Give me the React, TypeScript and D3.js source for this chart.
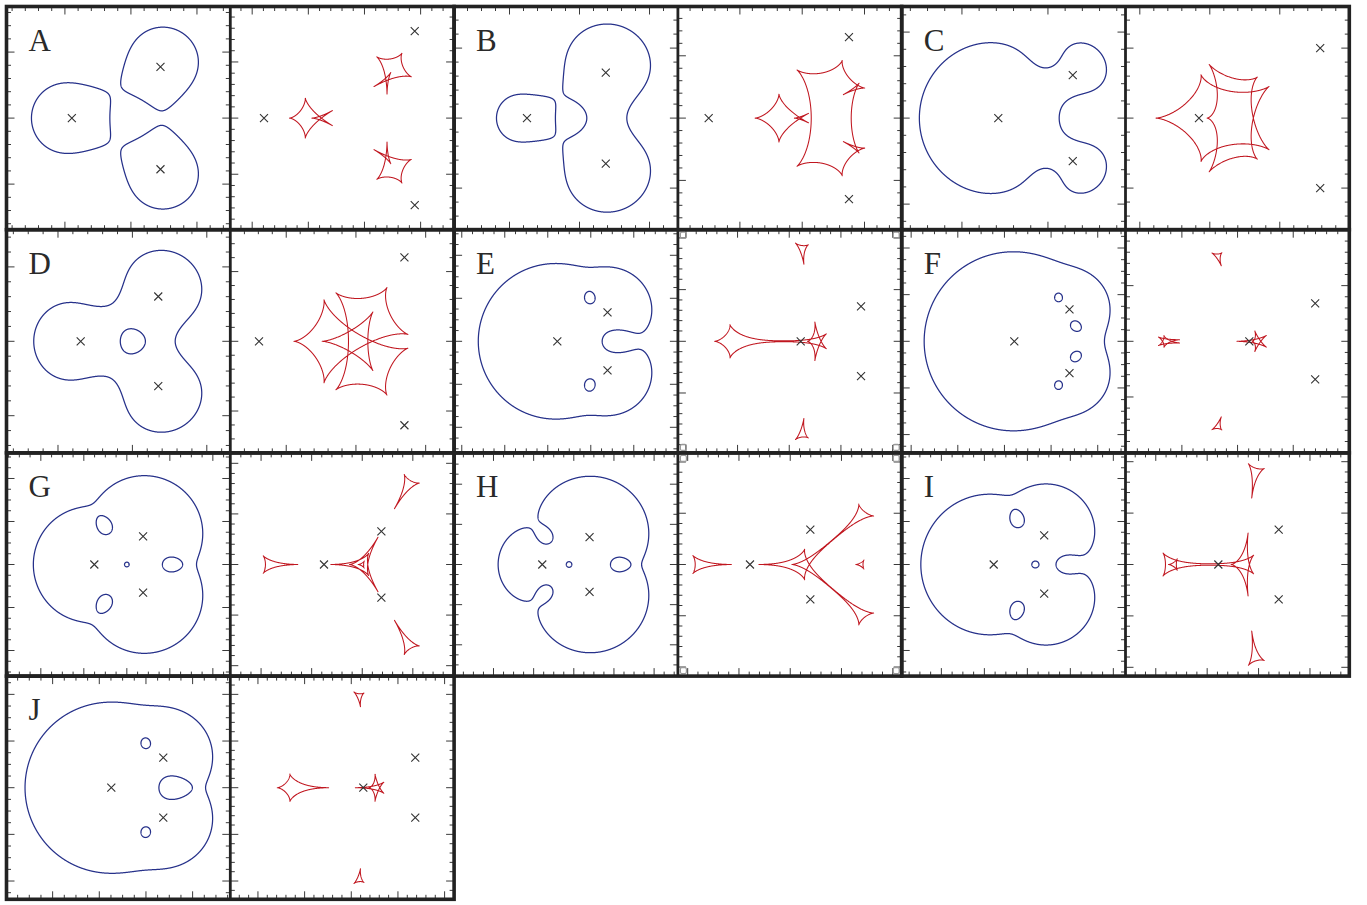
import React, { useMemo } from "react";
import * as d3 from "d3";

type Pt = [number, number];

const W = 1367;
const H = 905;

// Panel labels, read row by row (three panel pairs per row)
const panelLabels = ["A", "B", "C", "D", "E", "F", "G", "H", "I", "J"];
// Side of the equilateral lens triangle, in Einstein radii of the total mass
const triangleSides = [1.55, 1.3, 1.0, 1.204, 0.674, 0.683, 0.655, 0.68, 0.678, 0.643];
// Mass fraction of the lens on the symmetry axis; the two others share the remainder equally
const axialMass = [1 / 3, 0.15, 0.8, 1 / 3, 0.77, 0.9, 1 / 3, 0.15, 0.6, 0.78];
// Horizontal range of the lens-plane view, measured from the axial lens
const lensPlaneRange: Pt[] = [
  [-0.99, 2.4], [-1.041, 2.156], [-1.123, 1.479], [-0.997, 2.011], [-1.2, 1.402],
  [-1.207, 1.192], [-1.021, 1.581], [-1.098, 1.689], [-1.07, 1.533], [-1.123, 1.275],
];
// Horizontal range of the source-plane view, measured from the axial lens
const sourcePlaneRange: Pt[] = [
  [-0.3, 1.693], [-0.247, 1.549], [-0.525, 1.074], [-0.206, 1.399], [-1.188, 0.977],
  [-1.112, 0.898], [-0.926, 1.286], [-0.703, 1.48], [-0.903, 1.274], [-1.425, 0.973],
];
// Tick spacing: [major step, minor subdivisions]
const lensPlaneTicks: Pt[] = [
  [1, 5], [1, 5], [1, 5], [1, 5], [0.5, 4], [0.5, 4], [0.5, 4], [0.5, 4], [0.5, 4], [0.5, 4],
];
const sourcePlaneTicks: Pt[] = [
  [0.5, 5], [0.5, 5], [0.5, 5], [0.5, 5], [0.5, 5], [0.5, 5], [0.5, 5], [0.5, 5], [0.5, 5], [0.5, 5],
];
// Source-plane frames that carry small corner marks
const cornerMarked = ["E", "H"];

const X0 = 6.5;
const Y0 = 6.5;
const CELL_W = 223.8;
const CELL_H = 223.2;
const COLS = 3;

const CRIT_COLOR = "#26318a";
const CAUSTIC_COLOR = "#c0161f";
const FRAME_COLOR = "#222";
const TICK_COLOR = "#3a3a3a";

interface Lens {
  xs: number[];
  ys: number[];
  ms: number[];
}

function makeLens(s: number, m: number): Lens {
  const h = (s * Math.sqrt(3)) / 2;
  return { xs: [0, h, h], ys: [0, s / 2, -s / 2], ms: [m, (1 - m) / 2, (1 - m) / 2] };
}

// |sum m_j / (z - z_j)^2|, the modulus of the shear term of the lens map
function shearModulus(L: Lens, x: number, y: number): number {
  let fr = 0;
  let fi = 0;
  for (let j = 0; j < 3; j++) {
    const dx = x - L.xs[j];
    const dy = y - L.ys[j];
    const r2 = dx * dx + dy * dy + 1e-12;
    const r4 = r2 * r2;
    fr += (L.ms[j] * (dx * dx - dy * dy)) / r4;
    fi += (L.ms[j] * (-2 * dx * dy)) / r4;
  }
  return Math.min(Math.hypot(fr, fi), 1e4);
}

// Newton steps onto the critical curve |f(z)| = 1
function projectToCritical(L: Lens, p: Pt): Pt {
  let x = p[0];
  let y = p[1];
  for (let it = 0; it < 8; it++) {
    let fr = 0, fi = 0, gr = 0, gi = 0;
    for (let j = 0; j < 3; j++) {
      const m = L.ms[j];
      const dx = x - L.xs[j];
      const dy = y - L.ys[j];
      const r2 = dx * dx + dy * dy;
      const r4 = r2 * r2;
      const r6 = r4 * r2;
      const c2r = dx * dx - dy * dy;
      const c2i = -2 * dx * dy;
      fr += (m * c2r) / r4;
      fi += (m * c2i) / r4;
      const c3r = c2r * dx + c2i * dy;
      const c3i = c2i * dx - c2r * dy;
      gr += (-2 * m * c3r) / r6;
      gi += (-2 * m * c3i) / r6;
    }
    const F = fr * fr + fi * fi - 1;
    const gx = 2 * (fr * gr + fi * gi);
    const gy = 2 * (fi * gr - fr * gi);
    const g2 = gx * gx + gy * gy;
    if (g2 === 0 || !isFinite(g2)) break;
    let sx = (F * gx) / g2;
    let sy = (F * gy) / g2;
    const len = Math.hypot(sx, sy);
    if (len > 0.01) {
      sx *= 0.01 / len;
      sy *= 0.01 / len;
    }
    x -= sx;
    y -= sy;
    if (Math.abs(F) < 1e-11) break;
  }
  return [x, y];
}

// Lens equation: source position of an image at z
function lensMap(L: Lens, p: Pt): Pt {
  let wx = p[0];
  let wy = p[1];
  for (let j = 0; j < 3; j++) {
    const dx = p[0] - L.xs[j];
    const dy = p[1] - L.ys[j];
    const r2 = dx * dx + dy * dy;
    wx -= (L.ms[j] * dx) / r2;
    wy -= (L.ms[j] * dy) / r2;
  }
  return [wx, wy];
}

function resampleRing(ring: Pt[], spacing: number): Pt[] {
  const pts = ring.slice();
  const last = pts[pts.length - 1];
  if (pts.length > 1 && last[0] === pts[0][0] && last[1] === pts[0][1]) pts.pop();
  const n = pts.length;
  const cum = [0];
  for (let i = 0; i < n; i++) {
    const a = pts[i];
    const b = pts[(i + 1) % n];
    cum.push(cum[i] + Math.hypot(b[0] - a[0], b[1] - a[1]));
  }
  const total = cum[n];
  const count = Math.max(90, Math.min(5000, Math.ceil(total / spacing)));
  const out: Pt[] = [];
  let seg = 0;
  for (let k = 0; k < count; k++) {
    const t = (k * total) / count;
    while (seg < n - 1 && cum[seg + 1] < t) seg++;
    const a = pts[seg];
    const b = pts[(seg + 1) % n];
    const span = cum[seg + 1] - cum[seg] || 1;
    const u = (t - cum[seg]) / span;
    out.push([a[0] + u * (b[0] - a[0]), a[1] + u * (b[1] - a[1])]);
  }
  return out;
}

function criticalCurves(L: Lens, s: number): Pt[][] {
  const cx = (s * Math.sqrt(3)) / 3;
  const n = 520;
  const half = 2.1;
  const gx0 = cx - half;
  const gy0 = -half;
  const step = (2 * half) / (n - 1);
  const values = new Float64Array(n * n);
  for (let j = 0; j < n; j++) {
    for (let i = 0; i < n; i++) {
      values[j * n + i] = shearModulus(L, gx0 + i * step, gy0 + j * step);
    }
  }
  const contour = d3.contours().size([n, n]).thresholds([1])(values as any)[0];
  const rings: Pt[][] = [];
  for (const poly of contour.coordinates) {
    for (const ring of poly) {
      const units: Pt[] = ring.map((p) => [gx0 + (p[0] - 0.5) * step, gy0 + (p[1] - 0.5) * step]);
      const even = resampleRing(units, 0.0025);
      rings.push(even.map((p) => projectToCritical(L, p)));
    }
  }
  return rings;
}

interface View {
  x: d3.ScaleLinear<number, number>;
  y: d3.ScaleLinear<number, number>;
  px: number;
  py: number;
}

function makeView(range: Pt, px: number, py: number): View {
  const yHalf = ((range[1] - range[0]) / 2) * (CELL_H / CELL_W);
  return {
    x: d3.scaleLinear().domain(range).range([px, px + CELL_W]),
    y: d3.scaleLinear().domain([-yHalf, yHalf]).range([py + CELL_H, py]),
    px,
    py,
  };
}

function tickMarks(v: View, originX: number, tick: Pt, key: string) {
  const [major, sub] = tick;
  const minor = major / sub;
  const lines: React.ReactNode[] = [];
  const [x0, x1] = v.x.domain();
  const [y0, y1] = v.y.domain();
  const kx0 = Math.ceil((x0 - originX) / minor);
  const kx1 = Math.floor((x1 - originX) / minor);
  for (let k = kx0; k <= kx1; k++) {
    const X = v.x(originX + k * minor);
    if (X < v.px + 2 || X > v.px + CELL_W - 2) continue;
    const len = ((k % sub) + sub) % sub === 0 ? 8 : 4.5;
    lines.push(<line key={`${key}b${k}`} x1={X} x2={X} y1={v.py + CELL_H} y2={v.py + CELL_H - len} />);
    lines.push(<line key={`${key}t${k}`} x1={X} x2={X} y1={v.py} y2={v.py + len} />);
  }
  const ky0 = Math.ceil(y0 / minor);
  const ky1 = Math.floor(y1 / minor);
  for (let k = ky0; k <= ky1; k++) {
    const Y = v.y(k * minor);
    if (Y < v.py + 2 || Y > v.py + CELL_H - 2) continue;
    const len = ((k % sub) + sub) % sub === 0 ? 8 : 4.5;
    lines.push(<line key={`${key}l${k}`} x1={v.px} x2={v.px + len} y1={Y} y2={Y} />);
    lines.push(<line key={`${key}r${k}`} x1={v.px + CELL_W} x2={v.px + CELL_W - len} y1={Y} y2={Y} />);
  }
  return lines;
}

function crossMarks(v: View, L: Lens, key: string) {
  return L.xs.map((x, j) => {
    const X = v.x(x);
    const Y = v.y(L.ys[j]);
    return (
      <path
        key={`${key}${j}`}
        d={`M${X - 4},${Y - 4}L${X + 4},${Y + 4}M${X - 4},${Y + 4}L${X + 4},${Y - 4}`}
        stroke="#333"
        strokeWidth={1.1}
        fill="none"
      />
    );
  });
}

function cornerBoxes(v: View, key: string) {
  const size = 6;
  const inset = 2.5;
  const spots: Pt[] = [
    [v.px + inset, v.py + inset],
    [v.px + CELL_W - inset - size, v.py + inset],
    [v.px + inset, v.py + CELL_H - inset - size],
    [v.px + CELL_W - inset - size, v.py + CELL_H - inset - size],
  ];
  return spots.map((s, k) => (
    <rect
      key={`${key}${k}`}
      x={s[0]}
      y={s[1]}
      width={size}
      height={size}
      rx={1.5}
      fill="none"
      stroke="#9a9a9a"
      strokeWidth={1.2}
    />
  ));
}

export default function App() {
  const panels = useMemo(() => {
    return panelLabels.map((label, i) => {
      const s = triangleSides[i];
      const lens = makeLens(s, axialMass[i]);
      const crit = criticalCurves(lens, s);
      const caustic = crit.map((ring) => ring.map((p) => lensMap(lens, p)));
      const col = i % COLS;
      const row = Math.floor(i / COLS);
      const px = X0 + 2 * col * CELL_W;
      const py = Y0 + row * CELL_H;
      const left = makeView(lensPlaneRange[i], px, py);
      const right = makeView(sourcePlaneRange[i], px + CELL_W, py);
      return { label, s, lens, crit, caustic, left, right, px, py, i };
    });
  }, []);

  return (
    <svg
      width={W}
      height={H}
      viewBox={`0 0 ${W} ${H}`}
      style={{ position: "absolute", left: 0, top: 0, background: "#fff" }}
    >
      <rect x={0} y={0} width={W} height={H} fill="#fff" />
      <defs>
        {panels.map((p) => (
          <React.Fragment key={p.label}>
            <clipPath id={`clipL${p.i}`}>
              <rect x={p.left.px} y={p.left.py} width={CELL_W} height={CELL_H} />
            </clipPath>
            <clipPath id={`clipR${p.i}`}>
              <rect x={p.right.px} y={p.right.py} width={CELL_W} height={CELL_H} />
            </clipPath>
          </React.Fragment>
        ))}
      </defs>
      {panels.map((p) => {
        const originX = (p.s * Math.sqrt(3)) / 3;
        const lineL = d3
          .line<Pt>()
          .x((d) => p.left.x(d[0]))
          .y((d) => p.left.y(d[1]))
          .curve(d3.curveLinearClosed);
        const lineR = d3
          .line<Pt>()
          .x((d) => p.right.x(d[0]))
          .y((d) => p.right.y(d[1]))
          .curve(d3.curveLinearClosed);
        return (
          <g key={p.label}>
            <g stroke={TICK_COLOR} strokeWidth={1}>
              {tickMarks(p.left, originX, lensPlaneTicks[p.i], "L")}
              {tickMarks(p.right, originX, sourcePlaneTicks[p.i], "R")}
            </g>
            {cornerMarked.includes(p.label) && cornerBoxes(p.right, "cb")}
            <g clipPath={`url(#clipL${p.i})`}>
              {p.crit.map((ring, k) => (
                <path key={k} d={lineL(ring) || ""} fill="none" stroke={CRIT_COLOR} strokeWidth={1.25} />
              ))}
              {crossMarks(p.left, p.lens, "cl")}
            </g>
            <g clipPath={`url(#clipR${p.i})`}>
              {p.caustic.map((ring, k) => (
                <path
                  key={k}
                  d={lineR(ring) || ""}
                  fill="none"
                  stroke={CAUSTIC_COLOR}
                  strokeWidth={1.05}
                  strokeLinejoin="round"
                />
              ))}
              {crossMarks(p.right, p.lens, "cr")}
            </g>
            <text
              x={p.px + 22}
              y={p.py + 44}
              fontFamily="'Liberation Serif', 'DejaVu Serif', serif"
              fontSize={31}
              fill="#2a2a2a"
            >
              {p.label}
            </text>
            <line
              x1={p.px + CELL_W}
              x2={p.px + CELL_W}
              y1={p.py}
              y2={p.py + CELL_H}
              stroke={FRAME_COLOR}
              strokeWidth={2.8}
            />
            <rect
              x={p.px}
              y={p.py}
              width={2 * CELL_W}
              height={CELL_H}
              fill="none"
              stroke={FRAME_COLOR}
              strokeWidth={3.6}
            />
          </g>
        );
      })}
    </svg>
  );
}
